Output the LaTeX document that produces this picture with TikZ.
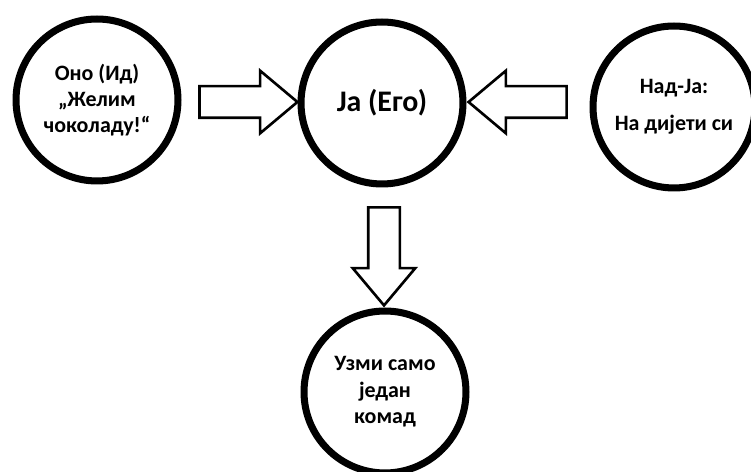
\documentclass[tikz,border=0pt]{standalone}
\usepackage{fontspec}
\setmainfont{Carlito}
\usetikzlibrary{shapes.arrows}
\begin{document}
\begin{tikzpicture}[x=0.02cm, y=-0.02cm, font=\bfseries\fontsize{12.5}{14}\selectfont,
	psyche/.style={draw, line width=4pt, circle, minimum size=3.24cm, inner sep=0pt, align=center},
	hollowarrow/.style={draw, line width=1.5pt, single arrow, inner sep=0.29cm, single arrow head extend=0.31cm, single arrow tip angle=80, minimum height=1.96cm}]
	\clip (0,0) rectangle (751,472);
	\node[psyche] (id) at (97,100) {Оно (Ид)\\[1pt]„Желим\\[1pt]чоколаду!“};
	\node[psyche, font=\bfseries\fontsize{17}{19}\selectfont] (ego) at (382,103) {Ја (Его)};
	\node[psyche] (superego) at (674,107) {Над-Ја:\\[7pt]На дијети си};
	\node[psyche] (decision) at (385,392) {Узми само\\[1pt]један\\[1pt]комад};
	\node[hollowarrow] (idarrow) at (239,102) {};
	\node[hollowarrow, shape border rotate=180] (superarrow) at (527,102) {};
	\node[hollowarrow, shape border rotate=270] (egoarrow) at (384,247) {};
\end{tikzpicture}
\end{document}
